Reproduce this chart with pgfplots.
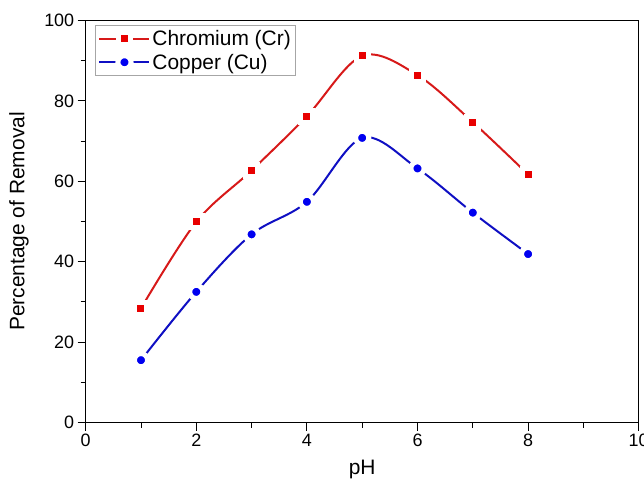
\documentclass[border=0pt]{standalone}
\usepackage{fontspec}
\setmainfont{Liberation Sans}
\usepackage{pgfplots}
\pgfplotsset{compat=1.18}

\definecolor{crline}{RGB}{215,25,25}
\definecolor{crmark}{RGB}{232,0,0}
\definecolor{culine}{RGB}{15,15,195}
\definecolor{cumark}{RGB}{0,0,240}

\begin{document}
\begin{tikzpicture}
\path[use as bounding box] (-85.7bp,-58.5bp) rectangle (558.3bp,422.5bp);
\begin{axis}[
  scale only axis,
  width=553bp, height=402bp,
  xmin=0, xmax=10, ymin=0, ymax=100,
  xtick={0,2,...,10}, ytick={0,20,...,100},
  minor x tick num=1, minor y tick num=1,
  tick pos=left, tick align=outside,
  major tick length=8bp, minor tick length=5bp,
  every tick/.style={black, line width=1pt},
  axis line style={line width=1.2pt},
  /pgf/number format/assume math mode=true,
  ticklabel style={font=\fontsize{18}{21}\selectfont},
  xlabel={pH}, ylabel={Percentage of Removal},
  label style={font=\fontsize{21}{25}\selectfont},
  xlabel style={at={(axis description cs:0.5,-0.118)}, anchor=center},
  ylabel style={at={(axis description cs:-0.1206,0.5)}, anchor=center},
  legend style={at={(axis description cs:0.017,0.989)}, anchor=north west,
    draw=gray!70, line width=0.8pt, font=\fontsize{21}{24}\selectfont,
    row sep=3pt, inner xsep=3pt, inner ysep=3pt,
    nodes={inner ysep=2pt}},
  legend cell align=left,
  legend image code/.code={
    \draw[#1, mark=none] (0bp,0bp) -- (50bp,0bp);
    \draw[#1, only marks] plot coordinates {(25bp,0bp)};
  },
]
\addplot[crline, line width=2pt, smooth, tension=0.55,
  mark=square*, mark size=6bp,
  mark options={fill=crmark, draw=white, line width=5bp}]
  coordinates {(1,28.4) (2,49.9) (3,62.7) (4,76.2) (5,91.2) (6,86.4) (7,74.7) (8,61.7)};
\addlegendentry{Chromium (Cr)}
\addplot[culine, line width=2pt, smooth, tension=0.55,
  mark=*, mark size=6.6bp,
  mark options={fill=cumark, draw=white, line width=5bp}]
  coordinates {(1,15.5) (2,32.5) (3,46.8) (4,54.9) (5,70.8) (6,63.2) (7,52.2) (8,41.9)};
\addlegendentry{Copper (Cu)}
\end{axis}
\end{tikzpicture}
\end{document}
